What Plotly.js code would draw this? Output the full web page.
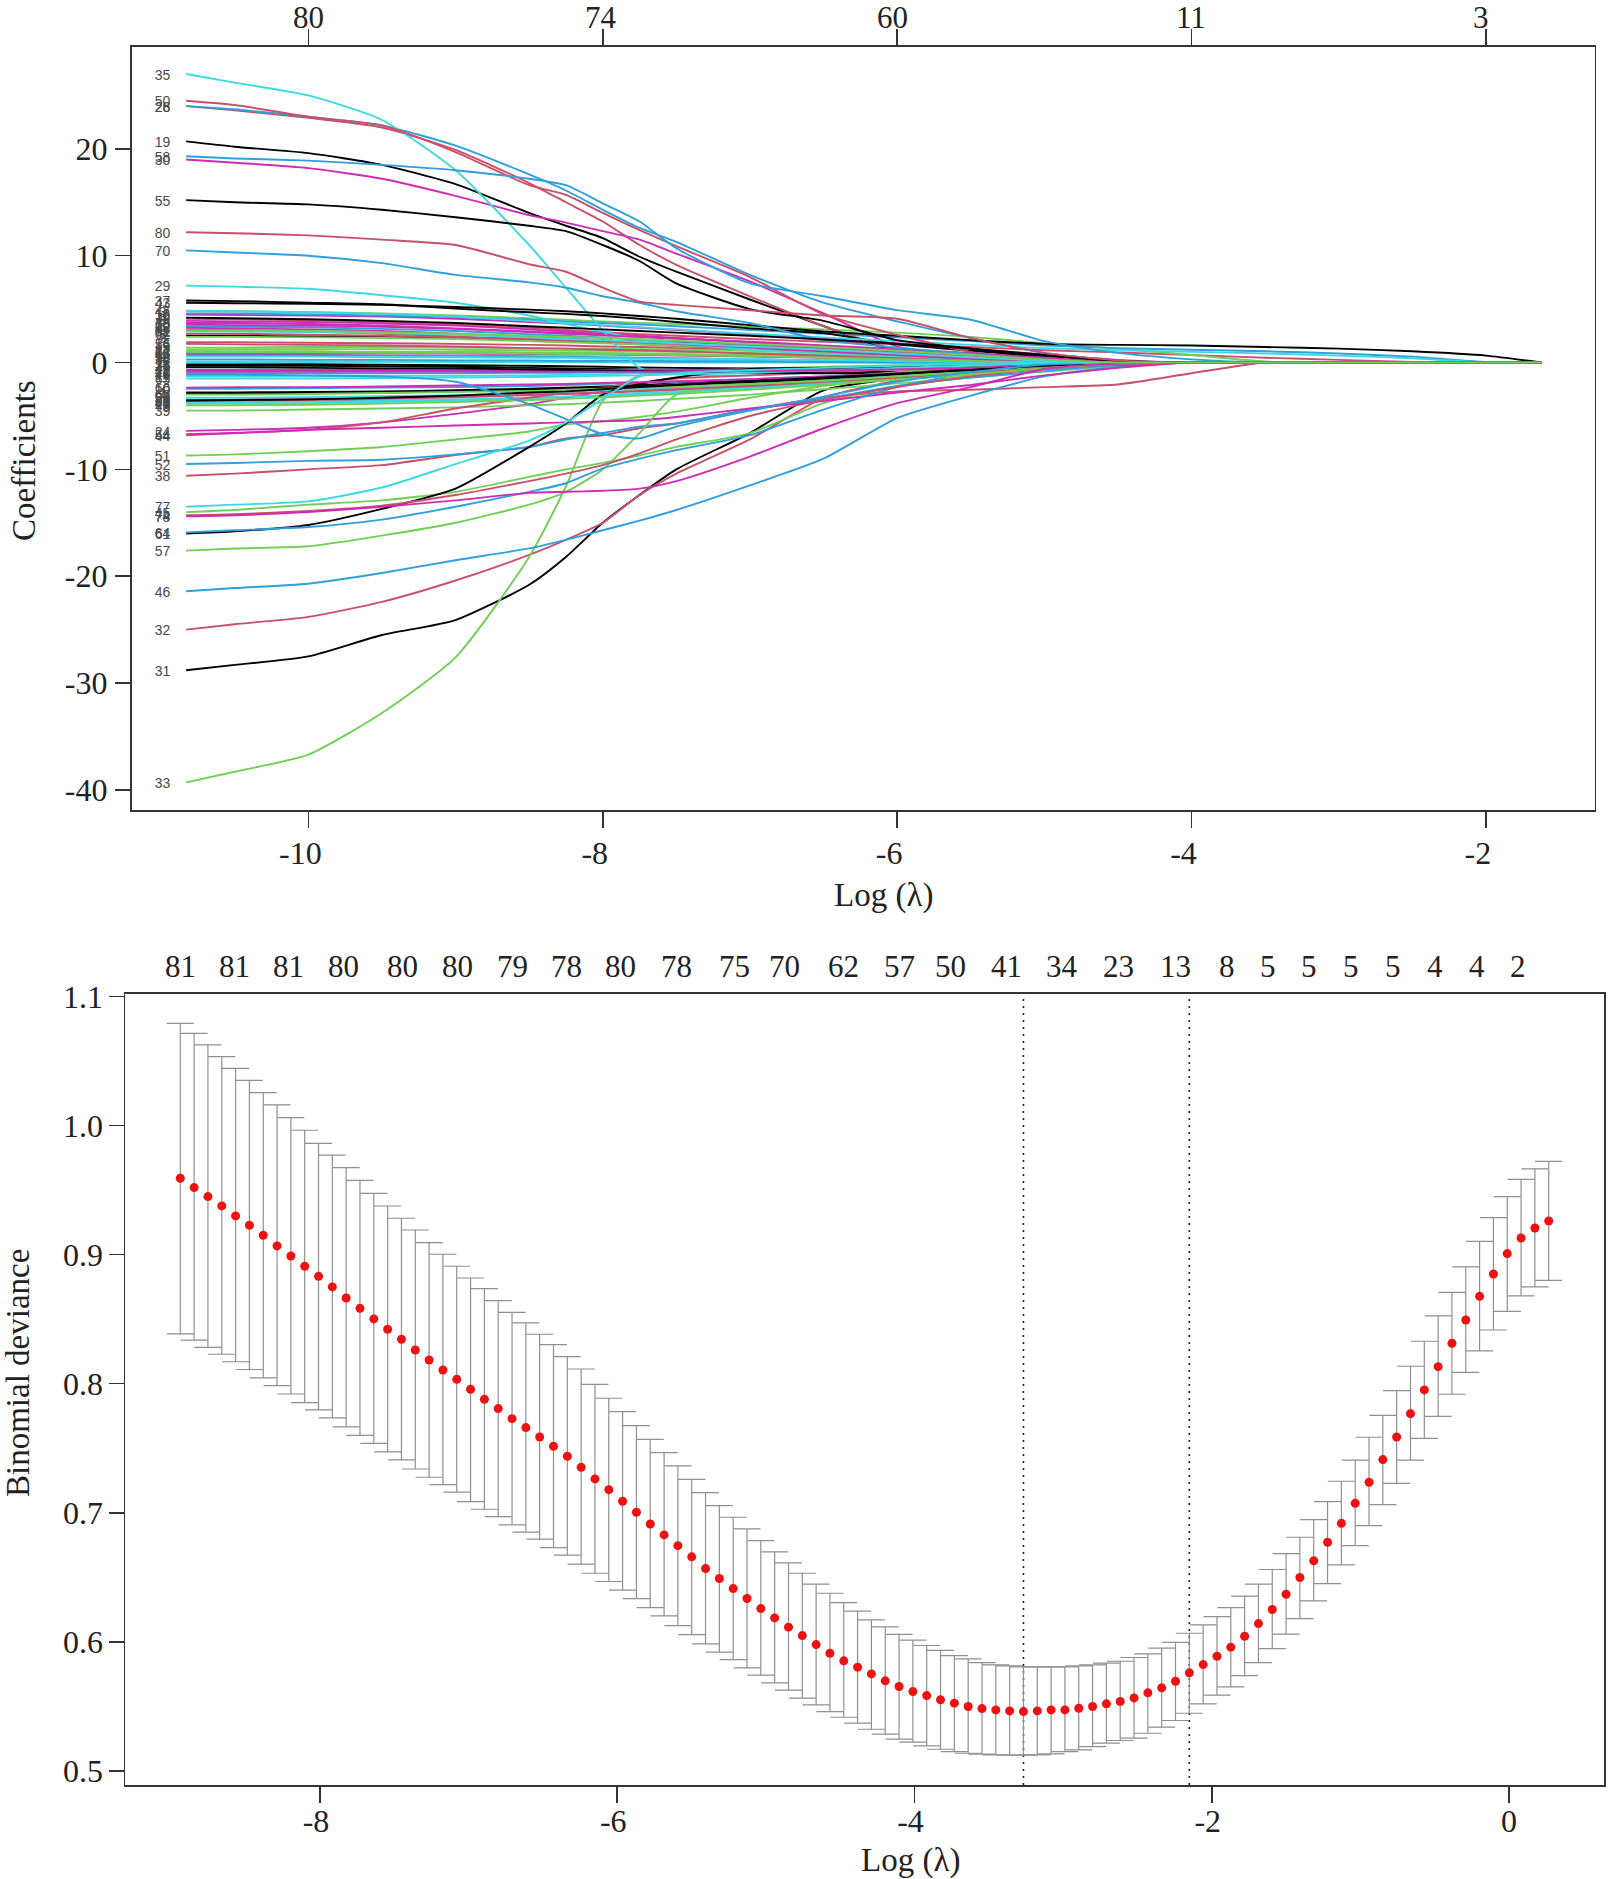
<!DOCTYPE html>
<html>
<head>
<meta charset="utf-8">
<title>Lasso coefficient paths and cross-validation</title>
<script src="https://cdn.plot.ly/plotly-3.0.1.min.js"></script>
<style>
  html, body { margin: 0; padding: 0; background: #fff; }
</style>
</head>
<body>
<div id="lasso_graph" style="width:1622px;height:1879px;"></div>
<script>
/* top panel: log(lambda) grid the coefficient paths were read on */
var pathGrid = [-10.83,-10.5,-10,-9.5,-9,-8.5,-8.25,-8,-7.75,-7.5,-7,-6.5,-6,-5.5,-5,-4.5,-4,-3.5,-3,-2.5,-2,-1.62];

/* coefficient read at each grid position, variable 1 to 81 in order.
   a path that is already at zero stops early, it stays zero after that */
var coefPaths = [
  [-2.8,-2.8,-2.75,-2.7,-2.6,-2.45,-2.35,-2.25,-2.1,-1.95,-1.65,-1.35,-.95,-.55,-.2],
  [4.1,4.05,3.95,3.8,3.55,3.25,3.05,2.85,2.65,2.5,2.2,1.95,1.7,1.45,1.15,.95,.7,.45,.25,.05],
  [4.8,4.8,4.7,4.6,4.4,4.15,4,3.85,3.7,3.6,3.35,3.1,2.8,2.4,1.8,1.3,.7,.1],
  [.7,.7,.7,.65,.62,.6,.55,.5,.45,.4,.3,.2,.15,.1],
  [.1,.1,.1,.08,.05,.04,.03,.02],
  [3.9,3.85,3.8,3.65,3.45,3.1,2.9,2.7,2.5,2.3,1.9,1.5,1.1,.7,.3,.05],
  [2.5,2.5,2.45,2.4,2.35,2.2,2.15,2.05,1.95,1.85,1.6,1.3,.95,.6,.2],
  [3.1,3.05,2.9,2.7,2.45,2.15,2,1.85,1.7,1.55,1.2,.9,.55,.25],
  [2.4,2.4,2.35,2.3,2.2,2,1.9,1.8,1.7,1.6,1.4,1.15,.85,.5,.15],
  [-2.45,-2.45,-2.4,-2.35,-2.3,-2.2,-2.1,-2,-1.9,-1.8,-1.55,-1.3,-1,-.7,-.4,-.15],
  [-1.3,-1.3,-1.3,-1.25,-1.25,-1.2,-1.15,-1.1,-1,-.95,-.8,-.6,-.4,-.2],
  [4.5,4.45,4.4,4.3,4.1,3.8,3.65,3.45,3.25,3.05,2.65,2.25,1.8,1.3,.75,.25],
  [-.15,-.15,-.15,-.2,-.25,-.3,-.35,-.4,-.45,-.5,-.55,-.55,-.5,-.4,-.25,-.1],
  [1.9,1.9,1.85,1.8,1.75,1.65,1.6,1.5,1.45,1.35,1.15,.95,.7,.4,.15],
  [1.4,1.4,1.45,1.45,1.4,1.35,1.3,1.3,1.25,1.2,1.1,.95,.75,.55,.3,.1],
  [4.6,4.6,4.5,4.4,4.25,4,3.85,3.7,3.55,3.4,3.05,2.7,2.35,2,1.6,1.35,1.2,1.05,.85,.55,.05],
  [0,0,.05,.08,.1,.15,.15,.2,.2,.2,.2,.15,.1,.05],
  [3.7,3.7,3.6,3.45,3.2,2.9,2.75,2.6,2.4,2.25,1.9,1.55,1.15,.75,.3],
  [20.7,20.2,19.6,18.5,16.7,14,12.8,11.65,9.9,8.5,5.9,3.4,1,.4,.1],
  [-3.5,-3.5,-3.4,-3.3,-3.2,-3,-2.9,-2.8,-2.7,-2.55,-2.25,-1.9,-1.5,-1.05,-.6,-.2],
  [1.2,1.25,1.25,1.25,1.2,1.15,1.1,1.1,1.05,1,.9,.75,.6,.4,.2,.05],
  [3.4,3.35,3.3,3.15,2.95,2.65,2.5,2.35,2.15,2,1.65,1.3,.95,.6,.2],
  [-3.85,-3.85,-3.8,-3.7,-3.55,-3.35,-3.2,-3.05,-2.85,-2.7,-2.3,-1.85,-1.35,-.85,-.4,-.1],
  [-6.4,-6.3,-6.1,-5.6,-4.8,-3.9,-3.3,-2.7,-2.3,-2,-1.8,-1.4,-1,-.6,-.3],
  [-.3,-.3,-.3,-.35,-.4,-.5,-.55,-.6,-.65,-.7,-.8,-.85,-.85,-.7,-.45,-.15],
  [24,23.6,22.9,22,19.9,16.8,15,13.2,11,9.15,6.2,3.4,1.2,.5,.1],
  [1.05,1.05,1.05,1,1,.95,.9,.9,.85,.8,.7,.6,.45,.3,.1],
  [24,23.7,23,22.2,20.3,17.6,16.1,14.3,12.6,11.3,8.2,5.6,3.85,2.3,.9,.2],
  [7.2,7.1,6.9,6.3,5.6,4.4,3.6,2.9,2.2,1.8,1.2,.8,.5,.2],
  [19,18.7,18.2,17.2,15.6,13.8,13.1,12.3,11.5,10.2,7.6,4.6,1.5,.6,.1],
  [-28.8,-28.3,-27.5,-25.5,-24.1,-20.8,-18.2,-15,-12.4,-10,-6.6,-2.6,-1.5,-.8,-.3],
  [-25,-24.5,-23.8,-22.4,-20.4,-18,-16.6,-15,-12.4,-10.4,-7.2,-3.3,-1.7,-.9,-.3],
  [-39.3,-38.3,-36.7,-32.8,-27.6,-18.2,-11.6,-3.6,-1.2,-.9,-.6,-.4,-.25,-.1],
  [.3,.3,.25,.25,.2,.2,.15,.15,.15,.1,.1,.05],
  [27,26.2,25,22.7,18,11,7,3,-.5,-1.1,-1.2,-.9,-.6,-.3,-.1],
  [.85,.85,.85,.85,.85,.8,.75,.75,.7,.65,.55,.45,.3,.15],
  [5.8,5.75,5.6,5.45,5.05,4.7,4.55,4.35,4.1,3.8,3.2,2.75,1.7,1.1,.6,.15],
  [-10.6,-10.4,-10,-9.6,-8.65,-7.9,-7.1,-6.8,-6.15,-5.7,-4.4,-3.3,-2.7,-2.55,-2.3,-2.05,-1],
  [-4.5,-4.5,-4.4,-4.3,-4.2,-4,-3.9,-3.75,-3.6,-3.4,-3,-2.5,-1.95,-1.4,-.85,-.3],
  [-1,-1,-1,-1,-1,-.95,-.95,-.9,-.9,-.85,-.75,-.65,-.5,-.3,-.15],
  [-3.75,-3.7,-3.65,-3.55,-3.45,-3.3,-3.2,-3.1,-3,-2.8,-2.4,-2,-1.55,-1.1,-.6,-.2],
  [-.7,-.7,-.7,-.7,-.7,-.7,-.7,-.7,-.7,-.7,-.65,-.6,-.5,-.35,-.2,-.05],
  [5.6,5.55,5.5,5.4,5.2,4.95,4.8,4.6,4.35,4.1,3.5,2.9,2.5,2.1,1.75,1.65,1.6,1.45,1.3,1.05,.65],
  [-6.8,-6.6,-6.3,-5.6,-4.3,-3.3,-2.8,-2.3,-1.9,-1.5,-1.2,-.9,-.6,-.3],
  [-14,-13.8,-13.3,-12.9,-12.1,-10.7,-10,-9.4,-8.7,-7.9,-6.6,-3.8,-2.2,-1.2,-.4],
  [-21.4,-21.1,-20.7,-19.7,-18.5,-17.4,-16.6,-15.7,-14.8,-13.8,-11.5,-9,-5.2,-3.1,-1.3,-.4],
  [4.85,4.8,4.7,4.55,4.3,3.9,3.7,3.5,3.3,3.1,2.7,2.35,2,1.65,1.35,1.15,1,.85,.65,.4],
  [3.25,3.2,3.1,2.95,2.7,2.4,2.25,2.1,1.9,1.75,1.4,1.05,.7,.35,.05],
  [-.45,-.45,-.5,-.55,-.55,-.65,-.7,-.75,-.8,-.85,-.95,-1,-1,-.85,-.5,-.2],
  [24.5,24.1,23,22.2,19.7,16.6,15.7,14,12.4,10.9,8,4.5,2.6,1,.2],
  [-8.7,-8.6,-8.3,-7.9,-7.2,-6.45,-5.8,-5.5,-5.1,-4.6,-3.3,-2.2,-1.4,-.8,-.1],
  [-9.5,-9.4,-9.2,-9.1,-8.6,-7.9,-7.2,-6.6,-6,-5.7,-4.4,-3.4,-2.2,-1.4,-.8,-.2],
  [.55,.55,.55,.5,.5,.45,.45,.4,.35,.35,.3,.25,.15,.05],
  [-6.7,-6.6,-6.3,-6.1,-5.9,-5.7,-5.6,-5.5,-5.4,-5.1,-4.3,-3.6,-2.8,-2.1,-1.2,-.5],
  [15.2,15,14.8,14.3,13.6,12.8,12.3,11,9.5,7.4,5,3.9,2.1,1.3,.4],
  [1.75,1.7,1.65,1.6,1.5,1.35,1.3,1.2,1.15,1.05,.85,.65,.4,.15],
  [-17.6,-17.4,-17.2,-16.2,-15,-13.3,-12.1,-10,-6.6,-3,-2.1,-1.5,-.9,-.4],
  [19.3,19.1,18.9,18.5,18,17.2,16.6,14.9,13.2,10.7,7.4,6.2,4.9,4,2,.9,.3],
  [-3.3,-3.3,-3.25,-3.15,-3.05,-2.85,-2.75,-2.6,-2.5,-2.35,-2,-1.6,-1.2,-.75,-.3],
  [3.55,3.5,3.45,3.35,3.15,2.85,2.7,2.55,2.4,2.25,1.95,1.6,1.25,.9,.45,.1],
  [-16,-15.8,-15.2,-13.7,-11.8,-7.9,-5.7,-3,-2,-1.4,-.6,-.5,-.4,-.3,-.1],
  [2.7,2.7,2.6,2.5,2.35,2.2,2.1,2,1.9,1.8,1.55,1.3,1,.7,.3],
  [.95,.95,.95,.9,.9,.85,.8,.8,.75,.7,.6,.45,.3,.15],
  [-15.9,-15.7,-15.4,-14.7,-13.5,-12.1,-11.3,-9.9,-9,-8.2,-6.8,-4.4,-2.3,-.95,-.3],
  [-1.5,-1.5,-1.5,-1.45,-1.4,-1.35,-1.3,-1.25,-1.2,-1.1,-.95,-.75,-.5,-.3,-.1],
  [-2.35,-2.3,-2.3,-2.25,-2.15,-2.05,-2,-1.9,-1.85,-1.75,-1.55,-1.3,-1,-.7,-.35,-.1],
  [-2.95,-2.9,-2.85,-2.8,-2.7,-2.55,-2.45,-2.35,-2.25,-2.1,-1.85,-1.5,-1.1,-.7,-.3],
  [-3.6,-3.55,-3.5,-3.4,-3.25,-3.05,-2.95,-2.8,-2.65,-2.5,-2.2,-1.8,-1.4,-.95,-.5,-.15],
  [-3,-3,-2.95,-2.85,-2.75,-2.65,-2.55,-2.45,-2.35,-2.25,-2,-1.7,-1.3,-.85,-.35],
  [10.5,10.3,10,9.3,8.2,7.5,7,6.2,5.6,4.8,3.7,2.1,1.4,.8,.25],
  [2.9,2.9,2.85,2.75,2.6,2.35,2.2,2.1,1.95,1.8,1.5,1.2,.85,.5,.15],
  [-.85,-.85,-.85,-.85,-.85,-.85,-.85,-.85,-.85,-.85,-.8,-.75,-.65,-.5,-.3,-.1],
  [-3.55,-3.5,-3.45,-3.3,-3.1,-2.8,-2.7,-2.5,-2.3,-2.1,-1.75,-1.4,-1.05,-.7,-.3],
  [-14.3,-14.2,-13.9,-13.4,-12.4,-11.1,-10.4,-9.6,-8.5,-7.2,-5,-3.5,-2.3,-1.3,-.6,-.15],
  [-4,-4,-3.95,-3.85,-3.7,-3.5,-3.4,-3.25,-3.1,-2.95,-2.55,-2.1,-1.6,-1.1,-.55,-.1],
  [-1.15,-1.15,-1.2,-1.3,-1.8,-3.9,-5.3,-6.7,-7.1,-6,-4.5,-3.2,-1.8,-.9,-.2],
  [-13.5,-13.3,-13,-11.7,-9.5,-7.3,-5.6,-3.4,-1.3,-1,-.7,-.5,-.3,-.15],
  [-14.4,-14.3,-14,-13.5,-12.9,-12.2,-12.1,-12,-11.8,-11.1,-8.8,-6.15,-3.8,-2.3,-.6,-.1],
  [4.2,4.15,4.05,3.9,3.7,3.4,3.25,3.1,2.95,2.8,2.5,2.15,1.75,1.3,.7,.15],
  [12.2,12.1,11.9,11.5,11,9.2,8.5,7,5.7,5.4,4.9,4.4,4.1,2.3,.9,.2],
  [3,3,2.95,2.85,2.7,2.5,2.4,2.3,2.2,2.05,1.75,1.45,1.1,.7,.3]
];

var pathColors = ['#000000', '#C9506B', '#6FD055', '#2F9FDE', '#3CD9E0', '#CD2CB6'];
var pathLabelX = -10.99;

var topTickVals = [-10, -8, -6, -4, -2];
var topTickText = ['-10\u00a0\u00a0', '-8\u00a0\u00a0', '-6\u00a0\u00a0', '-4\u00a0\u00a0', '-2\u00a0\u00a0'];
var coefTickVals = [-40, -30, -20, -10, 0, 10, 20];
var coefTickText = ['-40', '-30', '-20', '-10', '0', '10', '20'];
var topCountX = [-10, -8.01, -6.03, -4, -2.03];
var topCountText = ['80', '74', '60', '11', '3'];

/* bottom panel: cross-validation curve */
var logLambda = [
  -8.94,-8.847,-8.754,-8.661,-8.568,-8.475,-8.382,-8.289,-8.196,-8.103,
  -8.01,-7.917,-7.824,-7.731,-7.638,-7.545,-7.452,-7.359,-7.266,-7.173,
  -7.08,-6.987,-6.894,-6.801,-6.708,-6.615,-6.522,-6.429,-6.336,-6.243,
  -6.15,-6.057,-5.964,-5.871,-5.778,-5.685,-5.592,-5.499,-5.406,-5.313,
  -5.22,-5.127,-5.034,-4.941,-4.848,-4.755,-4.662,-4.569,-4.476,-4.383,
  -4.29,-4.197,-4.104,-4.011,-3.918,-3.825,-3.732,-3.639,-3.546,-3.453,
  -3.36,-3.267,-3.174,-3.081,-2.988,-2.895,-2.802,-2.709,-2.616,-2.523,
  -2.43,-2.337,-2.244,-2.151,-2.058,-1.965,-1.872,-1.779,-1.686,-1.593,
  -1.5,-1.407,-1.314,-1.221,-1.128,-1.035,-.942,-.849,-.756,-.663,
  -.57,-.477,-.384,-.291,-.198,-.105,-.012,.081,.174,.267
];
var cvMean = [
  .9592,.9520,.9450,.9378,.9300,.9228,.9150,.9068,.8990,.8910,
  .8832,.8750,.8664,.8584,.8502,.8422,.8344,.8261,.8184,.8106,
  .8034,.7957,.7879,.7807,.7729,.7660,.7587,.7515,.7438,.7352,
  .7262,.7179,.7089,.7004,.6913,.6828,.6745,.6658,.6567,.6490,
  .6412,.6335,.6257,.6185,.6113,.6048,.5978,.5911,.5852,.5803,
  .5751,.5697,.5653,.5614,.5583,.5550,.5524,.5498,.5482,.5472,
  .5464,.5459,.5464,.5472,.5472,.5485,.5498,.5519,.5537,.5565,
  .5604,.5643,.5694,.5759,.5823,.5888,.5958,.6043,.6141,.6250,
  .6368,.6498,.6627,.6771,.6918,.7073,.7236,.7412,.7587,.7768,
  .7952,.8132,.8313,.8494,.8677,.8850,.9008,.9129,.9207,.9261
];
var cvUpper = [
  1.0793,1.0715,1.0625,1.0535,1.0444,1.0351,1.0256,1.0160,1.0062,.9964,
  .9863,.9772,.9674,.9576,.9475,.9377,.9282,.9191,.9093,.9003,
  .8910,.8819,.8737,.8644,.8553,.8471,.8383,.8303,.8210,.8114,
  .7995,.7887,.7784,.7675,.7569,.7466,.7363,.7259,.7156,.7055,
  .6965,.6875,.6784,.6696,.6611,.6531,.6446,.6376,.6304,.6237,
  .6169,.6115,.6058,.6012,.5971,.5934,.5893,.5867,.5839,.5821,
  .5813,.5805,.5805,.5805,.5805,.5813,.5821,.5834,.5849,.5878,
  .5906,.5950,.5996,.6066,.6131,.6195,.6265,.6353,.6446,.6560,
  .6683,.6810,.6947,.7086,.7244,.7407,.7585,.7755,.7946,.8135,
  .8329,.8525,.8708,.8905,.9103,.9287,.9449,.9584,.9664,.9723
];
var cvLower = [
  .8386,.8337,.8282,.8228,.8170,.8110,.8045,.7985,.7920,.7853,
  .7797,.7735,.7665,.7600,.7538,.7471,.7409,.7339,.7275,.7218,
  .7159,.7086,.7027,.6970,.6906,.6849,.6795,.6730,.6671,.6601,
  .6531,.6467,.6400,.6335,.6265,.6200,.6125,.6055,.5983,.5919,
  .5862,.5798,.5741,.5681,.5625,.5563,.5511,.5459,.5415,.5369,
  .5322,.5284,.5245,.5222,.5193,.5167,.5149,.5136,.5129,.5124,
  .5121,.5121,.5124,.5131,.5149,.5162,.5188,.5214,.5235,.5253,
  .5291,.5338,.5390,.5446,.5519,.5586,.5650,.5738,.5839,.5947,
  .6059,.6180,.6317,.6451,.6596,.6745,.6900,.7063,.7228,.7407,
  .7577,.7747,.7918,.8088,.8254,.8416,.8561,.8680,.8750,.8801
];
var lambdaMin = -3.267;
var lambda1se = -2.151;

var cvTickVals = [-8, -6, -4, -2, 0];
var cvTickText = ['-8\u00a0', '-6\u00a0', '-4\u00a0', '-2\u00a0', '0'];
var devTickVals = [.5, .6, .7, .8, .9, 1, 1.1];
var devTickText = ['0.5', '0.6', '0.7', '0.8', '0.9', '1.0', '1.1'];
var cvCountX = [-8.938,-8.575,-8.21,-7.84,-7.445,-7.075,-6.705,-6.34,-5.98,-5.6,-5.21,-4.875,-4.48,-4.1,-3.76,-3.38,-3.01,-2.625,-2.245,-1.9,-1.625,-1.345,-1.06,-.78,-.5,-.215,.06];
var cvCountText = ['81','81','81','80','80','80','79','78','80','78','75','70','62','57','50','41','34','23','13','8','5','5','5','5','4','4','2'];

var W = 1622, H = 1879;
var serif = '"Liberation Serif", "Times New Roman", serif';
var axisColor = '#333333';
var textColor = '#222222';

var data = [];

// one line per variable, colours cycle the way matplot does it
for (var i = 0; i < coefPaths.length; i++) {
  var ys = coefPaths[i].slice();
  while (ys.length < pathGrid.length) ys.push(0);
  data.push({
    x: pathGrid,
    y: ys,
    type: 'scatter',
    mode: 'lines',
    xaxis: 'x',
    yaxis: 'y',
    hoverinfo: 'skip',
    showlegend: false,
    line: { color: pathColors[i % 6], width: 1.9, shape: 'spline', smoothing: 0.6 }
  });
}

// variable numbers at the left end of the paths
var labelX = [], labelY = [], labelText = [];
for (var j = 0; j < coefPaths.length; j++) {
  labelX.push(pathLabelX);
  labelY.push(coefPaths[j][0] - 0.2);
  labelText.push(String(j + 1));
}
data.push({
  x: labelX, y: labelY, text: labelText,
  type: 'scatter', mode: 'text', xaxis: 'x', yaxis: 'y',
  hoverinfo: 'skip', showlegend: false,
  textfont: { family: '"Liberation Sans", Arial, sans-serif', size: 14, color: '#4a4a4a' }
});

// the two dotted lambda lines
[lambdaMin, lambda1se].forEach(function(v) {
  data.push({
    x: [v, v], y: [.489, 1.102],
    type: 'scatter', mode: 'lines', xaxis: 'x2', yaxis: 'y2',
    hoverinfo: 'skip', showlegend: false,
    line: { color: '#222222', width: 1.6, dash: '2px 5px' }
  });
});

// deviance with its error bars
data.push({
  x: logLambda,
  y: cvMean,
  type: 'scatter',
  mode: 'markers',
  xaxis: 'x2',
  yaxis: 'y2',
  showlegend: false,
  marker: { color: '#EE1111', size: 9 },
  error_y: {
    type: 'data',
    symmetric: false,
    array: cvUpper.map(function(u, k) { return u - cvMean[k]; }),
    arrayminus: cvLower.map(function(l, k) { return cvMean[k] - l; }),
    color: '#8f8f8f',
    thickness: 1.2,
    width: 13.5
  }
});

function axis(extra) {
  var a = {
    showgrid: false,
    zeroline: false,
    showline: true,
    linecolor: axisColor,
    linewidth: 1.8,
    ticks: 'outside',
    ticklen: 16,
    tickwidth: 1.6,
    tickcolor: axisColor,
    tickmode: 'array',
    tickfont: { family: serif, size: 32, color: textColor }
  };
  for (var k in extra) a[k] = extra[k];
  return a;
}

function axisTitle(text, x, y, angle) {
  return {
    text: text, x: x / W, y: 1 - y / H, xref: 'paper', yref: 'paper',
    showarrow: false, textangle: angle, xanchor: 'center', yanchor: 'middle',
    font: { family: serif, size: 33, color: textColor }
  };
}

// number of non-zero coefficients, sits above the panels
function countLabel(x, text, xref, y) {
  return {
    text: text, x: x, y: 1 - y / H, xref: xref, yref: 'paper',
    showarrow: false, xanchor: 'center', yanchor: 'middle',
    font: { family: serif, size: 31, color: textColor }
  };
}

var notes = [
  axisTitle('Log (λ)', 884, 895, 0),
  axisTitle('Coefficients', 24, 461, -90),
  axisTitle('Log (λ)', 910, 1860, 0),
  axisTitle('Binomial deviance', 18, 1373, -90)
];
topCountX.forEach(function(x, k) { notes.push(countLabel(x, topCountText[k], 'x', 18)); });
cvCountX.forEach(function(x, k) { notes.push(countLabel(x, cvCountText[k], 'x2', 966)); });

var layout = {
  width: W,
  height: H,
  autosize: false,
  margin: { l: 0, r: 0, t: 0, b: 0 },
  paper_bgcolor: '#ffffff',
  plot_bgcolor: '#ffffff',
  showlegend: false,
  xaxis: axis({
    domain: [131.7 / W, 1594.5 / W], range: [-11.2, -1.262], anchor: 'y',
    tickvals: topTickVals, ticktext: topTickText, mirror: 'ticks', ticklabelstandoff: -2
  }),
  yaxis: axis({
    domain: [1 - 810 / H, 1 - 46.7 / H], range: [-41.88, 29.56], anchor: 'x',
    tickvals: coefTickVals, ticktext: coefTickText, mirror: true, ticklen: 15, ticklabelstandoff: 1
  }),
  xaxis2: axis({
    domain: [125.3 / W, 1603.7 / W], range: [-9.31, .637], anchor: 'y2',
    tickvals: cvTickVals, ticktext: cvTickText, mirror: true, ticklabelstandoff: -9
  }),
  yaxis2: axis({
    domain: [1 - 1785 / H, 1 - 994 / H], range: [.489, 1.102], anchor: 'x2',
    tickvals: devTickVals, ticktext: devTickText, mirror: true, ticklen: 15, ticklabelstandoff: -1
  }),
  annotations: notes
};

Plotly.newPlot('lasso_graph', data, layout, { displayModeBar: false, staticPlot: true });
</script>
</body>
</html>
